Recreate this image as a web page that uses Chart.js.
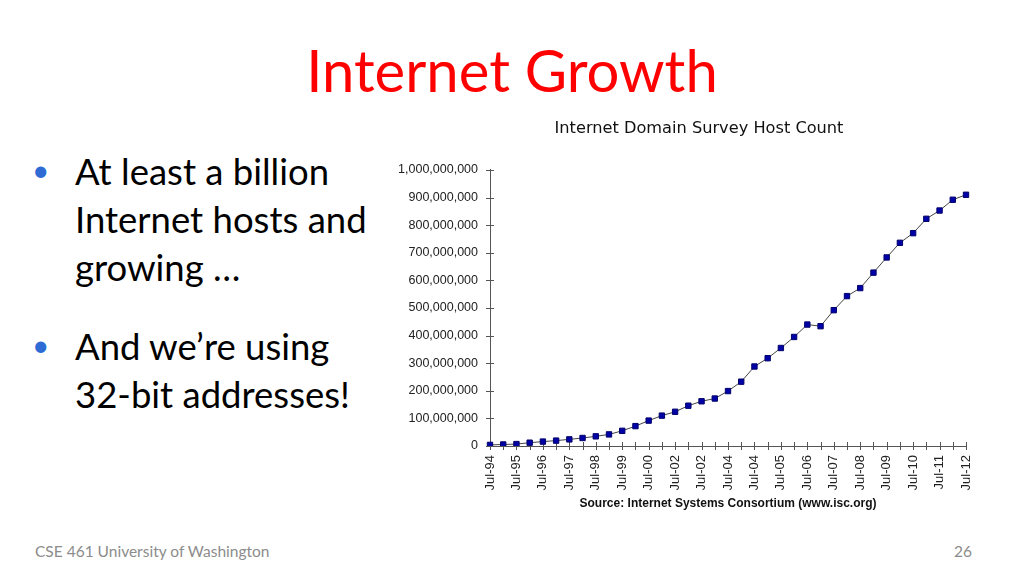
<!DOCTYPE html>
<html>
<head>
<meta charset="utf-8">
<script src="https://cdn.jsdelivr.net/npm/chart.js@4.4.1/dist/chart.umd.min.js"></script>
<style>
  html, body { margin:0; padding:0; background:#fff; }
  body { width:1024px; height:576px; position:relative; overflow:hidden; font-family: Lato, "Open Sans", sans-serif; }
  .title { position:absolute; left:0; width:1024px; top:35px; text-align:center; color:#ff0000; font-size:58px; line-height:70px; }
  .para { position:absolute; left:75px; font-size:36.5px; line-height:48px; color:#000; white-space:nowrap; }
  .dot { position:absolute; left:-43px; top:-2px; color:#2e6bd4; font-size:30px; line-height:48px; }
  .footer { position:absolute; top:540px; font-size:15.5px; line-height:22px; color:#8c8c8c; }
  #wrap { position:absolute; left:390px; top:110px; width:618px; height:420px; }
</style>
</head>
<body>
<div class="title">Internet Growth</div>
<div class="para" style="top:147px;"><span class="dot">•</span>At least a billion<br>Internet hosts and<br>growing …</div>
<div class="para" style="top:322px;"><span class="dot">•</span>And we’re using<br>32-bit addresses!</div>
<div class="footer" style="left:35px;">CSE 461 University of Washington</div>
<div class="footer" style="left:900px; width:72px; text-align:right;">26</div>
<div id="wrap"><canvas id="c"></canvas></div>
<script>
// Survey dates (semi-annual, Jul-94 .. Jul-12)
const categories = ["Jul-94","Jan-95","Jul-95","Jan-96","Jul-96","Jan-97","Jul-97","Jan-98","Jul-98","Jan-99",
  "Jul-99","Jan-00","Jul-00","Jan-01","Jul-01","Jan-02","Jul-02","Jan-03","Jan-04","Jul-04",
  "Jan-05","Jul-05","Jan-06","Jul-06","Jan-07","Jul-07","Jan-08","Jul-08","Jan-09","Jul-09",
  "Jan-10","Jul-10","Jan-11","Jul-11","Jan-12","Jul-12","Jul-12b"];
// Tick labels as printed on the axis (every other survey)
const tickLabels = ["Jul-94","Jul-95","Jul-96","Jul-97","Jul-98","Jul-99","Jul-00","Jul-02","Jul-02","Jul-04",
  "Jul-04","Jul-05","Jul-06","Jul-07","Jul-08","Jul-09","Jul-10","Jul-11","Jul-12"];
// Host counts
const hostCount = [4000000,5500000,7000000,12000000,16000000,19500000,24000000,29000000,35000000,42000000,
  55000000,72000000,92000000,110000000,124000000,146000000,162000000,172000000,199000000,233000000,
  288000000,318000000,355000000,395000000,440000000,434000000,492000000,543000000,572000000,628000000,
  683000000,736000000,771000000,823000000,853000000,892000000,910000000];
const yTicks = [0,100000000,200000000,300000000,400000000,500000000,600000000,700000000,800000000,900000000,1000000000];

const crossTicks = {
  id: 'crossTicks',
  beforeDatasetsDraw(chart) {
    const ctx = chart.ctx, x = chart.scales.x, y = chart.scales.y;
    ctx.save();
    ctx.strokeStyle = '#555';
    ctx.lineWidth = 1;
    ctx.beginPath();
    for (let i = 0; i < x.ticks.length; i++) {
      const px = Math.round(x.getPixelForTick(i)) + 0.5;
      ctx.moveTo(px, y.bottom - 4); ctx.lineTo(px, y.bottom + 4);
    }
    for (let i = 0; i < y.ticks.length; i++) {
      const py = Math.round(y.getPixelForTick(i)) + 0.5;
      ctx.moveTo(x.left - 4, py); ctx.lineTo(x.left + 4, py);
    }
    ctx.stroke();
    ctx.restore();
  }
};

new Chart(document.getElementById('c'), {
  type: 'line',
  data: {
    labels: categories,
    datasets: [{
      data: hostCount,
      borderColor: '#444',
      borderWidth: 1,
      tension: 0,
      pointStyle: 'rect',
      pointRadius: 3.8,
      pointBackgroundColor: '#0000a8',
      pointBorderColor: '#00006a',
      pointBorderWidth: 1
    }]
  },
  options: {
    responsive: true,
    maintainAspectRatio: false,
    animation: false,
    layout: { padding: 0 },
    plugins: {
      legend: { display: false },
      tooltip: { enabled: false },
      title: {
        display: true,
        text: 'Internet Domain Survey Host Count',
        color: '#111',
        font: { family: '"DejaVu Sans", Verdana, sans-serif', size: 16.2, weight: 'normal', lineHeight: 1.2 },
        padding: { top: 9, bottom: 31.5 }
      }
    },
    scales: {
      x: {
        offset: false,
        grid: { display: false, drawTicks: false },
        border: { display: true, color: '#555', width: 1 },
        ticks: {
          autoSkip: false, maxRotation: 90, minRotation: 90, padding: 9,
          color: '#222',
          font: { family: '"Liberation Sans", Arial, sans-serif', size: 13 },
          callback: (v, i) => (i % 2 === 0 ? tickLabels[i / 2] : '')
        },
        title: {
          display: true,
          text: 'Source: Internet Systems Consortium (www.isc.org)',
          color: '#111',
          font: { family: '"Liberation Sans", Arial, sans-serif', size: 12, weight: 'bold', lineHeight: 1.2 },
          padding: { top: 0, bottom: 19 }
        },
        afterFit: s => { s.height = 84; }
      },
      y: {
        min: 0, max: 1000000000,
        afterBuildTicks: s => { s.ticks = yTicks.map(v => ({ value: v })); },
        grid: { display: false, drawTicks: false },
        border: { display: true, color: '#555', width: 1 },
        ticks: {
          padding: 12, color: '#222',
          font: { family: '"Liberation Sans", Arial, sans-serif', size: 12.5 },
          callback: v => Number(v).toLocaleString('en-US')
        },
        afterFit: s => { s.width = 100; }
      },
      yRight: {
        position: 'right',
        display: true,
        grid: { display: false, drawTicks: false },
        border: { display: false },
        ticks: { display: false },
        afterFit: s => { s.width = 42; }
      }
    }
  },
  plugins: [crossTicks]
});
</script>
</body>
</html>
